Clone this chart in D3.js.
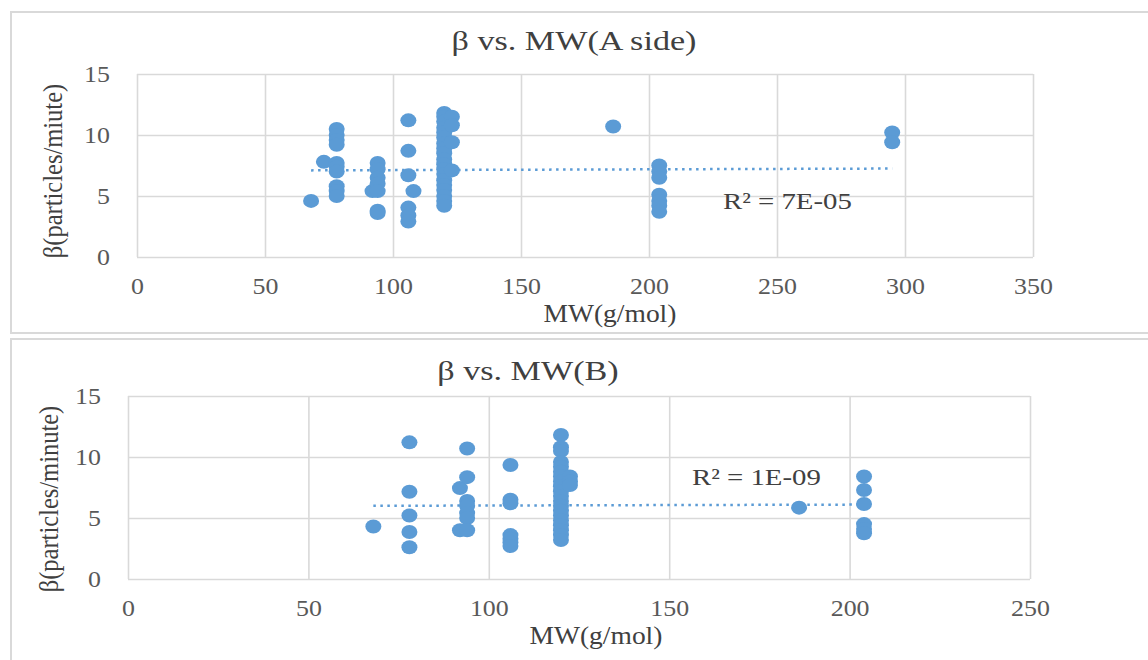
<!DOCTYPE html>
<html lang="en">
<head>
    <meta charset="UTF-8">
    <title>β vs. MW</title>
    <style>
        body {
            margin: 0;
            background-color: #ffffff;
        }
        svg text {
            font-family: "Liberation Serif", "Times New Roman", serif;
        }
    </style>
    <script src="https://d3js.org/d3.v7.min.js"></script>
</head>
<body>
    <svg width="1148" height="660"></svg>

    <script>
        // A side: MW values and the beta readings at each MW
        const mwA = [68, 73, 78, 92, 94, 106, 108, 120, 123, 186, 204, 295];
        const betaA = [
            [4.6],
            [7.8],
            [10.5, 10.0, 9.6, 9.2, 7.7, 7.4, 7.0, 5.8, 5.4, 5.0],
            [5.4],
            [7.7, 7.2, 6.5, 6.0, 5.4, 3.8, 3.6],
            [11.2, 8.7, 6.7, 4.05, 3.4, 2.9],
            [5.4],
            [11.8, 11.5, 11.1, 10.6, 10.2, 9.8, 9.3, 8.9, 8.5, 8.0, 7.6, 7.2, 6.8, 6.3, 5.9, 5.5, 5.0, 4.6, 4.2],
            [11.5, 10.8, 9.4, 7.1],
            [10.7],
            [7.5, 7.0, 6.5, 5.1, 4.6, 4.2, 3.7],
            [10.2, 9.4]
        ];
        const trendA = [[68, 7.1], [295, 7.25]];
        const r2A = "R² = 7E-05";

        // B side
        const mwB = [68, 78, 92, 94, 106, 120, 122.5, 186, 204];
        const betaB = [
            [4.3],
            [11.2, 7.15, 5.2, 3.85, 2.6],
            [7.45, 4.0],
            [10.7, 8.35, 6.4, 6.0, 5.4, 5.0, 4.0],
            [9.35, 6.5, 6.2, 3.6, 3.3, 3.0, 2.7],
            [11.8, 10.8, 10.5, 9.6, 9.2, 8.8, 8.4, 8.0, 7.6, 7.2, 6.8, 6.4, 6.0, 5.6, 5.2, 4.8, 4.4, 4.0, 3.6, 3.2],
            [8.4, 8.0, 7.7],
            [5.85],
            [8.4, 7.3, 6.15, 4.5, 4.1, 3.75]
        ];
        const trendB = [[68, 6.0], [204, 6.1]];
        const r2B = "R² = 1E-09";

        const xTicksA = [0, 50, 100, 150, 200, 250, 300, 350];
        const xTicksB = [0, 50, 100, 150, 200, 250];
        const yTicks = [0, 5, 10, 15];

        const svg = d3.select("svg");
        const gridColor = "#d9d9d9";
        const dotColor = "#5b9bd5";
        const textColor = "#404040";

        // panel frames
        svg.append("rect").attr("x", 11).attr("y", 12).attr("width", 1150).attr("height", 321)
            .attr("fill", "none").attr("stroke", gridColor).attr("stroke-width", 2);
        svg.append("rect").attr("x", 11).attr("y", 339).attr("width", 1150).attr("height", 340)
            .attr("fill", "none").attr("stroke", gridColor).attr("stroke-width", 2);

        function label(x, y, txt, size, sx, anchor) {
            return svg.append("text")
                .attr("transform", `translate(${x},${y}) scale(${sx},1)`)
                .attr("text-anchor", anchor || "middle")
                .style("font-size", size + "px")
                .style("fill", textColor)
                .text(txt);
        }

        function drawChart(c) {
            const x = d3.scaleLinear().domain([0, c.xMax]).range([c.left, c.right]);
            const y = d3.scaleLinear().domain([0, 15]).range([c.bottom, c.top]);
            const h = c.bottom - c.top, w = c.right - c.left;

            const gx = svg.append("g").attr("transform", `translate(0,${c.bottom})`)
                .call(d3.axisBottom(x).tickValues(c.xTicks).tickSize(-h).tickPadding(20));
            const gy = svg.append("g").attr("transform", `translate(${c.left},0)`)
                .call(d3.axisLeft(y).tickValues(yTicks).tickSize(-w).tickPadding(25));

            [gx, gy].forEach(g => {
                g.select(".domain").remove();
                g.selectAll("line").attr("stroke", gridColor).attr("stroke-width", 1.6);
                g.selectAll("text")
                    .style("font-size", "24px")
                    .style("fill", "#595959")
                    .attr("transform", "scale(1.08,1)");
            });

            // trend line
            svg.append("line")
                .attr("x1", x(c.trend[0][0])).attr("y1", y(c.trend[0][1]))
                .attr("x2", x(c.trend[1][0])).attr("y2", y(c.trend[1][1]))
                .attr("stroke", dotColor).attr("stroke-width", 2.5)
                .attr("stroke-dasharray", "2.5 4.5");

            // points
            const pts = [];
            c.mw.forEach((m, i) => c.beta[i].forEach(b => pts.push([m, b])));
            svg.append("g").selectAll("ellipse")
                .data(pts)
                .enter().append("ellipse")
                .attr("cx", d => x(d[0]))
                .attr("cy", d => y(d[1]))
                .attr("rx", 8)
                .attr("ry", 7)
                .attr("fill", dotColor);

            label(c.titleX, c.titleY, c.title, 28, 1.22);
            label(c.xTitleX, c.bottom + 65, "MW(g/mol)", 25, 1.1);
            svg.append("text")
                .attr("transform", `translate(${c.yTitleX},${c.yTitleY}) rotate(-90) scale(1,1.15)`)
                .attr("text-anchor", "middle")
                .attr("dy", "0.33em")
                .style("font-size", "24.5px")
                .style("fill", textColor)
                .text(c.yTitle);
            label(c.r2X, c.r2Y, c.r2, 24, 1.2, "start");
        }

        drawChart({
            mw: mwA, beta: betaA, trend: trendA, r2: r2A, xMax: 350, xTicks: xTicksA,
            left: 137, right: 1033, top: 74, bottom: 257,
            title: "β vs. MW(A side)", titleX: 574, titleY: 50,
            xTitleX: 610, yTitle: "β(particles/miute)", yTitleX: 53, yTitleY: 171,
            r2X: 723, r2Y: 209
        });

        drawChart({
            mw: mwB, beta: betaB, trend: trendB, r2: r2B, xMax: 250, xTicks: xTicksB,
            left: 128, right: 1030, top: 396, bottom: 579,
            title: "β vs. MW(B)", titleX: 528, titleY: 380,
            xTitleX: 596, yTitle: "β(particles/minute)", yTitleX: 49, yTitleY: 499,
            r2X: 692, r2Y: 485
        });
    </script>
</body>
</html>
